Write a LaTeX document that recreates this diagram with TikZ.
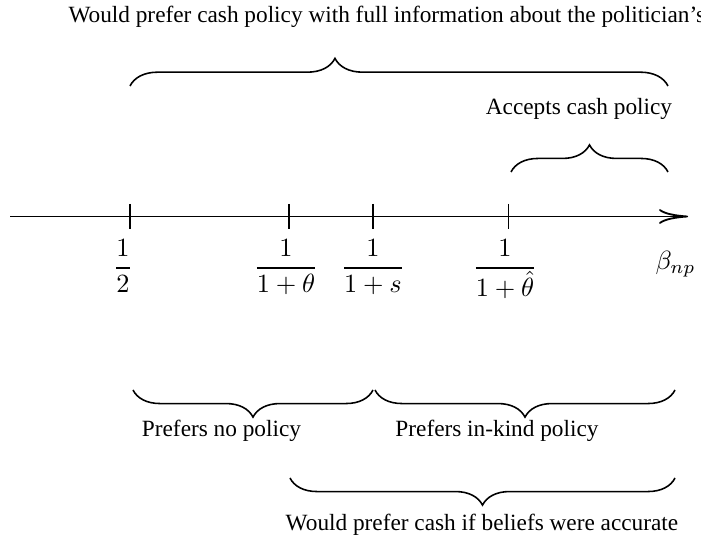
\documentclass[tikz,border=0pt]{standalone}
\usepackage[no-math]{fontspec}
\setmainfont{Liberation Serif}
\usetikzlibrary{decorations.pathreplacing,arrows.meta}
\tikzset{
  txt/.style={font=\fontsize{8.85}{10.5}\selectfont, inner sep=0pt},
  fraclabel/.style={anchor=base, inner sep=0pt},
  axisline/.style={line width=0.7pt, -{To[length=11pt,width=5.6pt,line width=0.7pt]}},
  tickline/.style={line width=0.7pt},
  upbrace/.style={decorate, line width=0.6pt, decoration={brace, amplitude=10.3pt}},
  downbrace/.style={decorate, line width=0.6pt, decoration={brace, mirror, amplitude=10.3pt}}
}
\begin{document}
\begin{tikzpicture}[x=0.38pt, y=-0.38pt]
\useasboundingbox (0,0) rectangle (701,543);

% axis
\coordinate (ax0) at (10,216.5);
\coordinate (ax1) at (688,216.5);
\draw[axisline] (ax0) -- (ax1);

% ticks
\coordinate (t1) at (130,216.5);
\coordinate (t2) at (289,216.5);
\coordinate (t3) at (373,216.5);
\coordinate (t4) at (508.5,216.5);
\foreach \t in {t1,t2,t3,t4}{
  \draw[tickline] (\t) ++(0,-12.5) -- ++(0,25);
}

% tick labels
\node[fraclabel] (f1) at (123,274.6) {$\displaystyle\frac{1}{2}$};
\node[fraclabel] (f2) at (286,274.6) {$\displaystyle\frac{1}{1+\theta}$};
\node[fraclabel] (f3) at (373,274.6) {$\displaystyle\frac{1}{1+s}$};
\node[fraclabel] (f4) at (505,274.6) {$\displaystyle\frac{1}{1+\hat{\theta}}$};
\node[anchor=base west, inner sep=0pt] (beta) at (655,270) {$\beta_{np}$};

% top brace
\coordinate (tA1) at (130,86);
\coordinate (tA2) at (668,86);
\draw[decorate, line width=0.6pt, decoration={brace, amplitude=10.5pt, aspect=0.381}] (tA1) -- (tA2);
\node[txt, anchor=base west] (toptext) at (68,23) {Would prefer cash policy with full information about the politician’s};

% accepts cash brace
\coordinate (cA1) at (511,172);
\coordinate (cA2) at (668,172);
\draw[upbrace] (cA1) -- (cA2);
\node[txt, anchor=base] (acc) at (579,115) {Accepts cash policy};

% bottom braces
\coordinate (b1L) at (133,390);
\coordinate (b1R) at (373,390);
\coordinate (b2L) at (375,390);
\coordinate (b2R) at (675,390);
\coordinate (b3L) at (290,478);
\coordinate (b3R) at (675,478);
\draw[downbrace] (b1L) -- (b1R);
\draw[downbrace] (b2L) -- (b2R);
\draw[downbrace] (b3L) -- (b3R);
\node[txt, anchor=base] (nop) at (221.5,437) {Prefers no policy};
\node[txt, anchor=base] (ink) at (497,437) {Prefers in-kind policy};
\node[txt, anchor=base] (acc2) at (482,531) {Would prefer cash if beliefs were accurate};
\end{tikzpicture}
\end{document}
